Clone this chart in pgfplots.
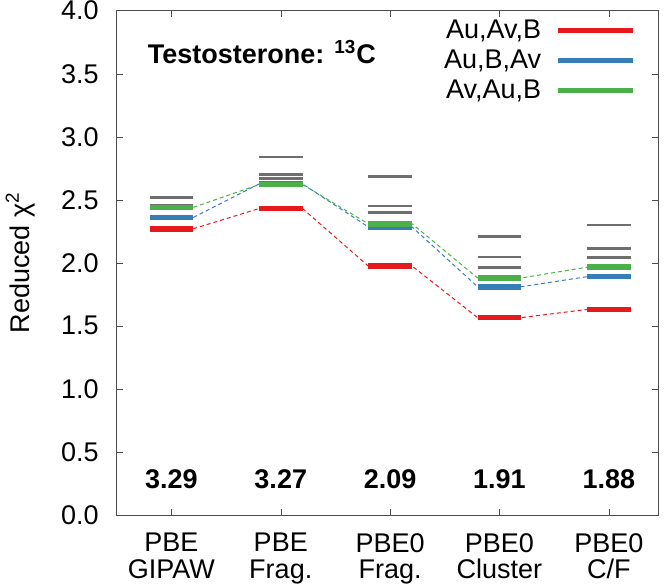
\documentclass[border=0pt]{standalone}
\usepackage{fontspec}
\setmainfont{Liberation Sans}
\usepackage{pgfplots}
\pgfplotsset{compat=1.18}
\definecolor{cred}{RGB}{228,26,28}
\definecolor{cblue}{RGB}{55,126,184}
\definecolor{cgreen}{RGB}{77,175,74}
\definecolor{cgray}{RGB}{110,110,110}
\begin{document}
\begin{tikzpicture}
\begin{axis}[
  scale only axis, width=270.5pt, height=252pt,
  xmin=0.5, xmax=5.45, ymin=0, ymax=4,
  xtick={1,2,3,4,5},
  xticklabels={{PBE\\GIPAW},{PBE\\Frag.},{PBE0\\Frag.},{PBE0\\Cluster},{PBE0\\C/F}},
  xticklabel style={align=center, font=\fontsize{13.5}{13.3}\selectfont, inner sep=0pt, yshift=-9pt},
  ytick={0,0.5,1,1.5,2,2.5,3,3.5,4},
  yticklabel style={/pgf/number format/fixed, /pgf/number format/fixed zerofill,
    /pgf/number format/precision=1, inner sep=0pt, xshift=-8.8pt},
  /pgf/number format/assume math mode=true,
  tick align=inside,
  axis line style={black!70},
  major tick length=3pt,
  tick style={black!70},
  ylabel={Reduced χ\textsuperscript{2}},
  ylabel style={at={(axis description cs:-0.1616,0.5)}, anchor=base, inner sep=0pt,
    font=\fontsize{13.5}{15}\selectfont},
  font=\fontsize{13.5}{15}\selectfont,
  unbounded coords=jump,
  clip=false,
  legend style={draw=none, fill=none, at={(0.970,0.999)}, anchor=north east,
    font=\fontsize{13.5}{14}\selectfont, row sep=0.3pt,
    /tikz/every odd column/.append style={column sep=5pt}},
  legend cell align=right,
  legend plot pos=right,
  legend image code/.code={\draw[#1, line width=2.6pt] (0cm,0cm) -- (37.5pt,0cm);},
]
% dashed connectors
\addplot[forget plot, cred, dash pattern=on 2pt off 1.5pt, line width=0.5pt] coordinates {(1.2,2.27)(1.8,2.43)(2.2,2.43)(2.8,1.975)(3.2,1.975)(3.8,1.565)(4.2,1.565)(4.8,1.63)};
\addplot[forget plot, cblue, dash pattern=on 2pt off 1.5pt, line width=0.5pt] coordinates {(1.2,2.36)(1.8,2.625)(2.2,2.625)(2.8,2.285)(3.2,2.285)(3.8,1.81)(4.2,1.81)(4.8,1.89)};
\addplot[forget plot, cgreen, dash pattern=on 2pt off 1.5pt, line width=0.5pt] coordinates {(1.2,2.44)(1.8,2.62)(2.2,2.62)(2.8,2.31)(3.2,2.31)(3.8,1.88)(4.2,1.88)(4.8,1.965)};
% gray segments (other orderings)
\addplot[forget plot, cgray, line width=1.3pt] coordinates {
 (0.8,2.52)(1.2,2.52)(1,nan) (0.8,2.46)(1.2,2.46)(1,nan) (0.8,2.45)(1.2,2.45)(1,nan)
 (1.8,2.84)(2.2,2.84)(2,nan) (1.8,2.70)(2.2,2.70)(2,nan) (1.8,2.67)(2.2,2.67)(2,nan)
 (2.8,2.685)(3.2,2.685)(3,nan) (2.8,2.45)(3.2,2.45)(3,nan) (2.8,2.40)(3.2,2.40)(3,nan)
 (3.8,2.21)(4.2,2.21)(4,nan) (3.8,2.045)(4.2,2.045)(4,nan) (3.8,1.965)(4.2,1.965)(4,nan)
 (4.8,2.30)(5.2,2.30)(5,nan) (4.8,2.115)(5.2,2.115)(5,nan) (4.8,2.04)(5.2,2.04)};
% coloured segments
\addplot[cred, line width=2.8pt] coordinates {
 (0.8,2.27)(1.2,2.27)(1,nan) (1.8,2.43)(2.2,2.43)(2,nan) (2.8,1.975)(3.2,1.975)(3,nan)
 (3.8,1.565)(4.2,1.565)(4,nan) (4.8,1.63)(5.2,1.63)};
\addlegendentry{Au,Av,B}
\addplot[cblue, line width=2.8pt] coordinates {
 (0.8,2.36)(1.2,2.36)(1,nan) (1.8,2.625)(2.2,2.625)(2,nan) (2.8,2.285)(3.2,2.285)(3,nan)
 (3.8,1.81)(4.2,1.81)(4,nan) (4.8,1.89)(5.2,1.89)};
\addlegendentry{Au,B,Av}
\addplot[cgreen, line width=2.8pt] coordinates {
 (0.8,2.44)(1.2,2.44)(1,nan) (1.8,2.62)(2.2,2.62)(2,nan) (2.8,2.31)(3.2,2.31)(3,nan)
 (3.8,1.88)(4.2,1.88)(4,nan) (4.8,1.965)(5.2,1.965)};
\addlegendentry{Av,Au,B}
\node[anchor=base west, inner sep=0pt, font=\bfseries\fontsize{13.5}{15}\selectfont] at (axis cs:0.78,3.58) {Testosterone: \textsuperscript{13}C};
\node[anchor=base, inner sep=0pt, font=\bfseries\fontsize{13.5}{15}\selectfont] at (axis cs:1,0.206) {3.29};
\node[anchor=base, inner sep=0pt, font=\bfseries\fontsize{13.5}{15}\selectfont] at (axis cs:2,0.206) {3.27};
\node[anchor=base, inner sep=0pt, font=\bfseries\fontsize{13.5}{15}\selectfont] at (axis cs:3,0.206) {2.09};
\node[anchor=base, inner sep=0pt, font=\bfseries\fontsize{13.5}{15}\selectfont] at (axis cs:4,0.206) {1.91};
\node[anchor=base, inner sep=0pt, font=\bfseries\fontsize{13.5}{15}\selectfont] at (axis cs:5,0.206) {1.88};
\end{axis}
\path ([shift={(-58.35pt,-35.85pt)}]current axis.south west) rectangle ([shift={(4pt,5.35pt)}]current axis.north east);
\end{tikzpicture}
\end{document}
